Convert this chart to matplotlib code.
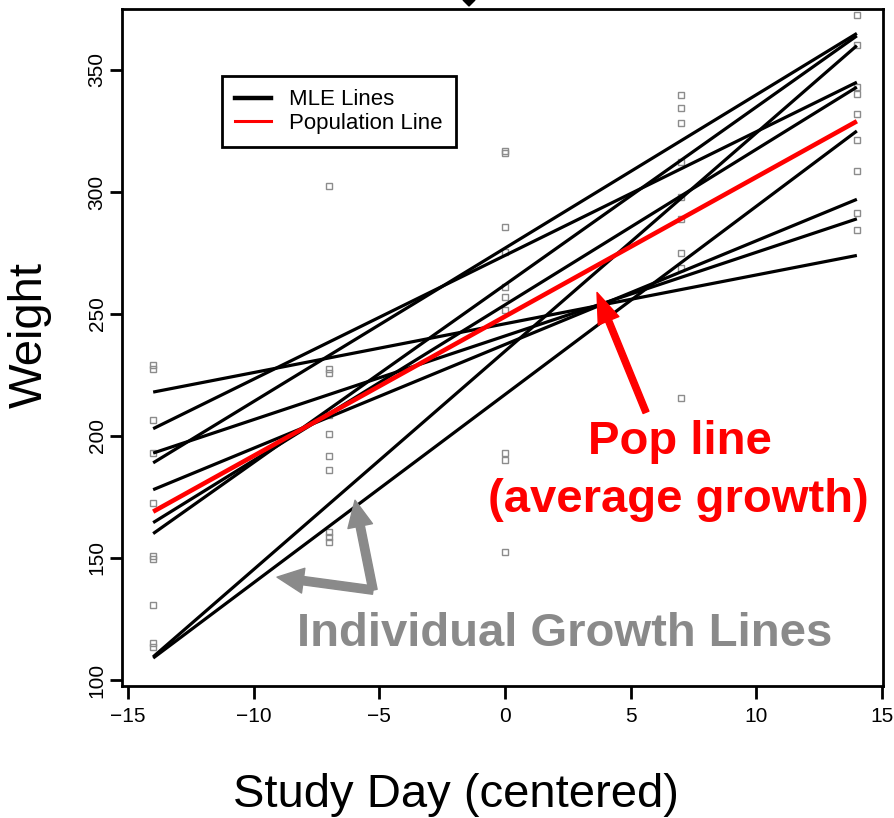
import matplotlib
matplotlib.use("Agg")
import matplotlib.pyplot as plt
from matplotlib.lines import Line2D
from matplotlib.patches import Polygon

plt.rcParams['font.family'] = ['Liberation Sans', 'DejaVu Sans']

# ---- data ----
line_days = [-14, 14]
mle_start = [218, 203, 189, 193, 178, 164.5, 160, 109.5, 109]
mle_end = [274, 345, 365, 289, 297, 343, 364, 360, 325]
pop_start = 169
pop_end = 329

obs_day = ([-14] * 10 + [-7] * 10 + [0] * 10 + [7] * 9 + [14] * 9)
obs_weight = ([229, 227.5, 206.6, 193, 172.5, 151, 149.5, 130.7, 115, 113.5] +
              [302.5, 227.5, 226, 208.5, 201, 192, 186, 160.5, 158.5, 156.5] +
              [317, 316, 285.8, 275.5, 261, 251.6, 193, 190, 152.6, 257] +
              [339.8, 334.3, 328.1, 312.4, 298, 289, 274.9, 268.7, 215.4] +
              [372.5, 360.2, 343, 340.3, 331.8, 321.5, 308.5, 291.4, 284.4])

xticks = [-15, -10, -5, 0, 5, 10, 15]
yticks = [100, 150, 200, 250, 300, 350]

W, H = 894, 818
fig = plt.figure(figsize=(W / 100, H / 100), dpi=100)
ax = fig.add_axes([122 / W, 1 - 686 / H, (883 - 122) / W, (686 - 9) / H])

ax.plot(obs_day, obs_weight, linestyle='none', marker='s', markersize=4,
        markerfacecolor='none', markeredgecolor='#8c8c8c', markeredgewidth=1.0, zorder=2)

for s, e in zip(mle_start, mle_end):
    ax.plot(line_days, [s, e], color='black', lw=2.3, zorder=3, solid_capstyle='butt')
ax.plot(line_days, [pop_start, pop_end], color='#ff0000', lw=3.3, zorder=4, solid_capstyle='butt')

ax.set_xlim(-15.24, 15.04)
ax.set_ylim(97.54, 375.0)
ax.set_xticks(xticks)
ax.set_yticks(yticks)
ax.set_xticklabels([str(t).replace('-', '\u2212') for t in xticks])
ax.set_yticklabels([str(t) for t in yticks], rotation=90, va='center')
for sp in ax.spines.values():
    sp.set_linewidth(2.0)
ax.tick_params(axis='both', direction='out', length=9, width=2.0, labelsize=15, color='black')
ax.tick_params(axis='x', pad=6)
ax.tick_params(axis='y', pad=2)

ax.set_ylabel('Weight', fontsize=34, va='center')
ax.yaxis.set_label_coords((30 - 122) / 761, (686 - 335) / 677)
ax.set_xlabel('Study Day (centered)', fontsize=34, va='center')
ax.xaxis.set_label_coords((456 - 122) / 761, (686 - 795) / 677)

handles = [Line2D([], [], color='black', lw=3.2),
           Line2D([], [], color='#ff0000', lw=2.2)]
leg = ax.legend(handles, ['MLE Lines', 'Population Line'], loc='upper left',
                bbox_to_anchor=((222 - 122) / 761, (686 - 76) / 677), borderaxespad=0,
                fontsize=16, frameon=True, fancybox=False, framealpha=1,
                edgecolor='black', handlelength=1.6, handletextpad=0.8,
                borderpad=0.6, labelspacing=0.12)
leg.get_frame().set_linewidth(2.0)
leg.set_zorder(6)

# annotations
def px2data(px, py):
    return (-15 + (px - 128) / 25.133, 100 + (680 - py) / 2.443)

ax.annotate('', xy=px2data(597, 292), xytext=px2data(646, 412),
            arrowprops=dict(arrowstyle='simple,head_length=2.2,head_width=1.6,tail_width=0.45',
                            color='#ff0000', shrinkA=0, shrinkB=0, mutation_scale=10), zorder=5)
gray = '#8a8a8a'
tail = px2data(373, 590)
for tip in [px2data(355, 500), px2data(277, 577)]:
    ax.annotate('', xy=tip, xytext=tail,
                arrowprops=dict(arrowstyle='simple,head_length=1.9,head_width=1.8,tail_width=0.6',
                                color=gray, shrinkA=0, shrinkB=0, mutation_scale=10), zorder=5)

ax.text(*px2data(680, 442), 'Pop line', color='#ff0000', fontsize=34, fontweight='bold',
        ha='center', va='center', zorder=6)
ax.text(*px2data(678, 500), '(average growth)', color='#ff0000', fontsize=34, fontweight='bold',
        ha='center', va='center', zorder=6)
ax.text(*px2data(565, 634), 'Individual Growth Lines', color=gray, fontsize=34, fontweight='bold',
        ha='center', va='center', zorder=6)

# small cut-off marker at the top edge
fig.patches.append(Polygon([(463, H), (475, H), (469, H - 6)], closed=True,
                           transform=None, facecolor='black', edgecolor='black'))

fig.savefig('out.png', dpi=100)
